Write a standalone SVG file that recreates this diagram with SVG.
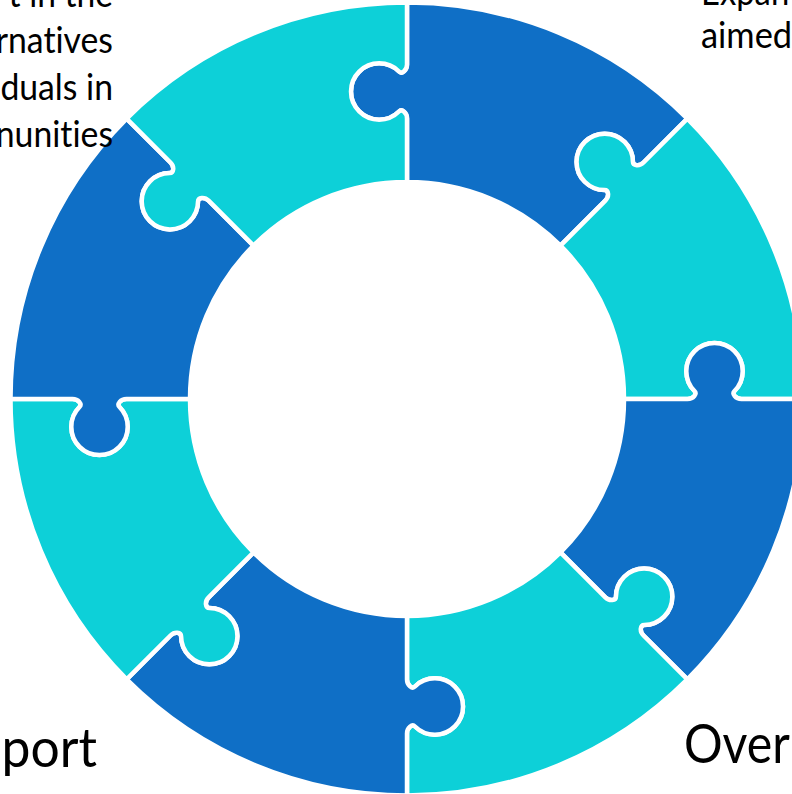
<svg xmlns="http://www.w3.org/2000/svg" xmlns:xlink="http://www.w3.org/1999/xlink" width="792" height="794" viewBox="0 0 792 794">
<style>
.dark{fill:#0F6FC6}
.cyan{fill:#0DD0D8}
.pc{stroke:#FFFFFF;stroke-width:4.5;stroke-linejoin:round}
.t{font-family:"Lato","Open Sans","Liberation Sans",sans-serif;fill:#000000;font-variant-ligatures:none}
</style>
<defs>
<path id="piece" d="M 0,-217 L 0,-280.5 C 0,-286.5 -5.2,-290.3 -8,-287.5 A 28.17 28.17 0 1 1 -8,-327.5 C -5.2,-324.7 0,-328.5 0,-334.5 L 0,-396.5 A 396.5 396.5 0 0 1 280.37,-280.37 L 236.53,-236.53 C 232.29,-232.29 225.92,-233.28 225.92,-237.24 A 28.17 28.17 0 1 0 197.64,-208.95 C 201.60,-208.95 202.59,-202.59 198.34,-198.34 L 153.44,-153.44 A 217 217 0 0 0 0,-217 Z"/>
</defs>
<rect width="792" height="794" fill="#FFFFFF"/>
<g transform="translate(407,399)">
<g id="piece-1"><use xlink:href="#piece" class="pc dark"/></g>
<g id="piece-2"><use xlink:href="#piece" class="pc cyan" transform="rotate(45)"/></g>
<g id="piece-3"><use xlink:href="#piece" class="pc dark" transform="rotate(90)"/></g>
<g id="piece-4"><use xlink:href="#piece" class="pc cyan" transform="rotate(135)"/></g>
<g id="piece-5"><use xlink:href="#piece" class="pc dark" transform="rotate(180)"/></g>
<g id="piece-6"><use xlink:href="#piece" class="pc cyan" transform="rotate(225)"/></g>
<g id="piece-7"><use xlink:href="#piece" class="pc dark" transform="rotate(270)"/></g>
<g id="piece-8"><use xlink:href="#piece" class="pc cyan" transform="rotate(315)"/></g>
</g>
<g id="label-top-left" class="t" font-size="36" text-anchor="end">
<text x="113" y="7" textLength="104.4" lengthAdjust="spacingAndGlyphs">t in the</text>
<text x="113" y="53" textLength="117.3" lengthAdjust="spacingAndGlyphs">rnatives</text>
<text x="113" y="100" textLength="112.6" lengthAdjust="spacingAndGlyphs">duals in</text>
<text x="113" y="147" textLength="117.3" lengthAdjust="spacingAndGlyphs">nunities</text>
</g>
<g id="label-top-right" class="t" font-size="36">
<text x="701" y="5" textLength="88.2" lengthAdjust="spacingAndGlyphs">Expan</text>
<text x="701" y="48" textLength="91.1" lengthAdjust="spacingAndGlyphs">aimed</text>
</g>
<g id="label-bottom-left" class="t" font-size="55" text-anchor="end">
<text x="97" y="767" textLength="95.5" lengthAdjust="spacingAndGlyphs">port</text>
</g>
<g id="label-bottom-right" class="t" font-size="54">
<text x="684" y="763" textLength="105.9" lengthAdjust="spacingAndGlyphs">Over</text>
</g>
</svg>
